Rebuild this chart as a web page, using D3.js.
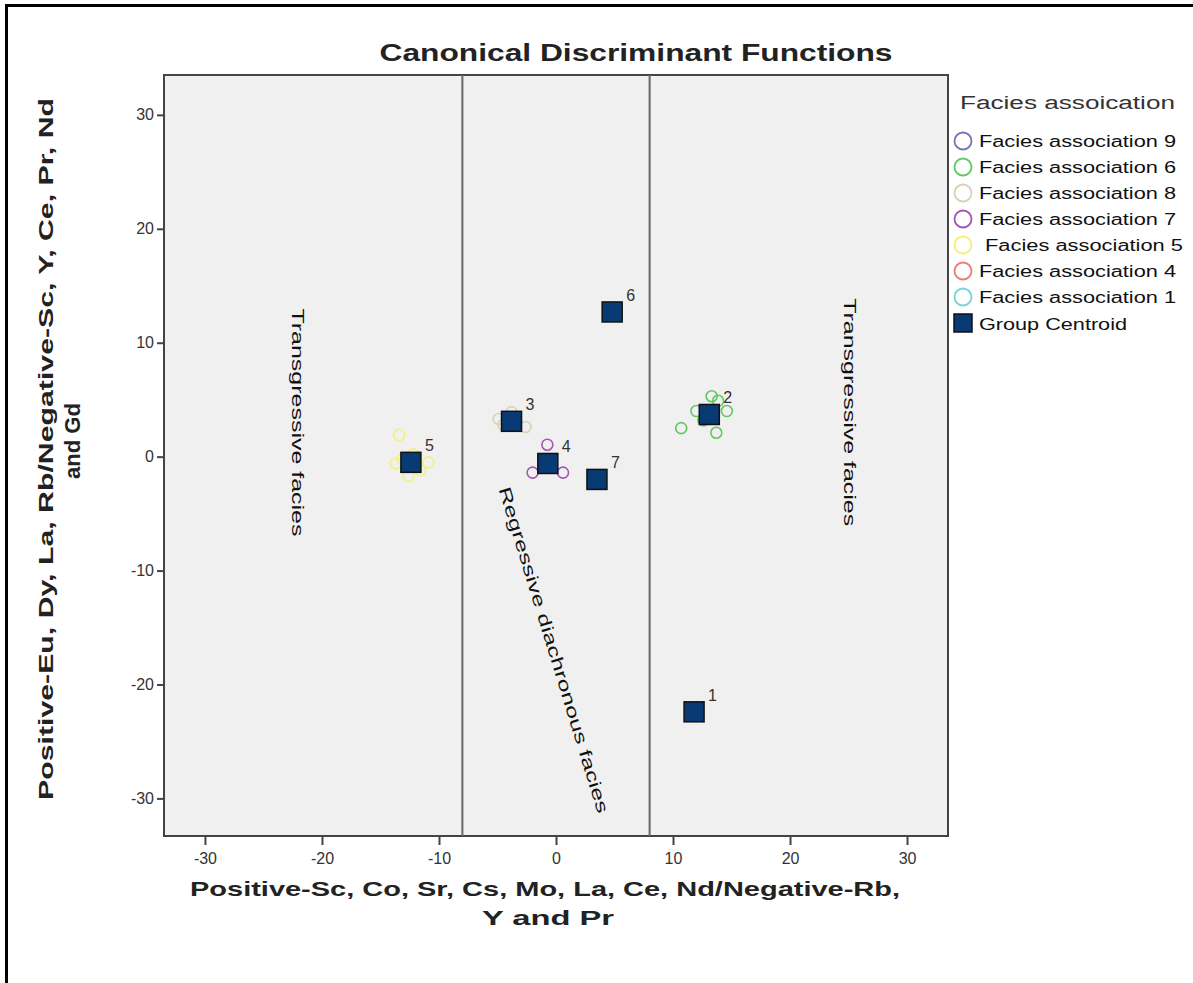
<!DOCTYPE html>
<html><head><meta charset="utf-8">
<script src="https://cdn.jsdelivr.net/npm/d3@7"></script>
<style>body{margin:0;background:#fff;}svg{display:block;font-family:Arial,"Liberation Sans",sans-serif;}</style>
</head><body>
<svg id="c" width="1193" height="983"></svg>
<script>
const xTicks = [-30,-20,-10,0,10,20,30];
const yTicks = [-30,-20,-10,0,10,20,30];
const boundaries = [-8, 8];

const legendNames = ["Facies association 9","Facies association 6","Facies association 8","Facies association 7"," Facies association 5","Facies association 4","Facies association 1"];
const legendColors = ["#7474b8","#62c862","#d9d2b4","#a456b4","#f2f27a","#f07878","#78d4d4"];

// individual cases
const fa6X = [10.7, 12.0, 13.3, 13.85, 14.6, 13.7, 12.6];
const fa6Y = [2.5, 4.0, 5.3, 4.9, 4.0, 2.1, 3.2];
const fa8X = [-4.9, -2.6, -3.8, -4.5];
const fa8Y = [3.3, 2.6, 3.9, 2.8];
const fa7X = [-0.74, -2.0, 0.6, -0.7];
const fa7Y = [1.05, -1.4, -1.4, -0.6];
const fa5X = [-13.4, -13.7, -10.9, -12.6, -12.2, -11.6, -13.1];
const fa5Y = [1.9, -0.6, -0.5, -1.7, 0.2, -1.2, -0.2];

const centroidLabels = ["1","2","3","4","5","6","7"];
const centroidX = [11.8, 13.1, -3.8, -0.7, -12.4, 4.8, 3.5];
const centroidY = [-22.4, 3.7, 3.1, -0.6, -0.5, 12.7, -2.0];

const svg = d3.select("#c");
const x = d3.scaleLinear().domain([-33.5, 33.5]).range([164, 948]);
const y = d3.scaleLinear().domain([-33.3, 33.5]).range([836, 75]);

function fit(sel, len){ return sel.attr("textLength", len).attr("lengthAdjust","spacingAndGlyphs"); }

// outer frame
svg.append("rect").attr("x",6.5).attr("y",5.5).attr("width",1200).attr("height",1000)
  .attr("fill","none").attr("stroke","#000").attr("stroke-width",3);

// plot background
svg.append("rect").attr("x",x(-33.5)).attr("y",y(33.5)).attr("width",x(33.5)-x(-33.5)).attr("height",y(-33.3)-y(33.5))
  .attr("fill","#f0f0f0").attr("stroke","#444").attr("stroke-width",2);

// boundaries
svg.selectAll(".bnd").data(boundaries).enter().append("line")
  .attr("x1",d=>x(d)).attr("x2",d=>x(d)).attr("y1",y(33.5)).attr("y2",y(-33.3))
  .attr("stroke","#666").attr("stroke-width",2);

// axes
const xAxis = svg.append("g").attr("transform",`translate(0,${y(-33.3)})`)
  .call(d3.axisBottom(x).tickValues(xTicks).tickSize(9).tickPadding(8).tickFormat(d=>String(d)));
const yAxis = svg.append("g").attr("transform",`translate(${x(-33.5)},0)`)
  .call(d3.axisLeft(y).tickValues(yTicks).tickSize(7).tickPadding(3).tickFormat(d=>String(d)));
[xAxis,yAxis].forEach(a=>{
  a.select(".domain").remove();
  a.selectAll(".tick line").attr("stroke","#444").attr("stroke-width",2);
  a.selectAll(".tick text").attr("fill","#333").style("font-size","16px").style("font-family","Arial, 'Liberation Sans', sans-serif");
});

// annotations
fit(svg.append("text").attr("transform",`translate(${x(-22.2)},${y(3)}) rotate(90)`)
  .attr("text-anchor","middle").attr("dominant-baseline","middle")
  .style("font-size","16px").attr("fill","#111").text("Transgressive facies"), 228);
fit(svg.append("text").attr("transform",`translate(${x(25)},${y(3.9)}) rotate(90)`)
  .attr("text-anchor","middle").attr("dominant-baseline","middle")
  .style("font-size","16px").attr("fill","#111").text("Transgressive facies"), 228);
fit(svg.append("text").attr("transform",`translate(${x(-0.3)},${y(-17.0)}) rotate(73)`)
  .attr("text-anchor","middle").attr("dominant-baseline","middle")
  .style("font-size","17px").attr("fill","#111").text("Regressive diachronous facies"), 340);

// cases
function drawCases(xs, ys, color){
  svg.append("g").selectAll("circle").data(xs.map((v,i)=>[v,ys[i]])).enter().append("circle")
    .attr("cx",d=>x(d[0])).attr("cy",d=>y(d[1])).attr("r",5.5)
    .attr("fill","none").attr("stroke",color).attr("stroke-width",1.6);
}
drawCases(fa6X, fa6Y, legendColors[1]);
drawCases(fa8X, fa8Y, legendColors[2]);
drawCases(fa7X, fa7Y, legendColors[3]);
drawCases(fa5X, fa5Y, legendColors[4]);

// centroids
const cg = svg.append("g");
const cdata = centroidX.map((v,i)=>({x:v,y:centroidY[i],l:centroidLabels[i]}));
cg.selectAll("rect").data(cdata).enter().append("rect")
  .attr("x",d=>x(d.x)-10).attr("y",d=>y(d.y)-10).attr("width",20).attr("height",20)
  .attr("fill","#083a74").attr("stroke","#111").attr("stroke-width",1.5);
cg.selectAll("text").data(cdata).enter().append("text")
  .attr("x",d=>x(d.x)+14).attr("y",d=>y(d.y)-11)
  .style("font-size","16px").attr("fill","#333").text(d=>d.l);

// title
fit(svg.append("text").attr("x",636).attr("y",61).attr("text-anchor","middle")
  .style("font-size","23px").style("font-weight","bold").attr("fill","#222").text("Canonical Discriminant Functions"), 513);

// axis titles
function boldText(tx, ty, rot, str, len, fs){
  return fit(svg.append("text").attr("transform",`translate(${tx},${ty}) rotate(${rot})`).attr("text-anchor","middle")
    .style("font-size",(fs||21)+"px").style("font-weight","bold").attr("fill","#222").text(str), len);
}
boldText(545, 896, 0, "Positive-Sc, Co, Sr, Cs, Mo, La, Ce, Nd/Negative-Rb,", 710);
boldText(548, 925, 0, "Y and Pr", 132);
boldText(53, 449, -90, "Positive-Eu, Dy, La, Rb/Negative-Sc, Y, Ce, Pr, Nd", 702);
boldText(80, 441, -90, "and Gd", 76, 22);

// legend
const lg = svg.append("g");
fit(lg.append("text").attr("x",960).attr("y",109).style("font-size","18px").attr("fill","#333").text("Facies assoication"), 215);
legendNames.forEach((n,i)=>{
  const cy = 141 + i*26;
  lg.append("circle").attr("cx",963).attr("cy",cy).attr("r",8.5).attr("fill","none").attr("stroke",legendColors[i]).attr("stroke-width",1.8);
  const lead = n.startsWith(" ");
  fit(lg.append("text").attr("x",lead?985:979).attr("y",cy+5.5).style("font-size","16px").attr("fill","#111").text(n.trim()), lead?198:197);
});
lg.append("rect").attr("x",954).attr("y",314).attr("width",18).attr("height",18).attr("fill","#083a74").attr("stroke","#111").attr("stroke-width",1.5);
fit(lg.append("text").attr("x",979).attr("y",329.5).style("font-size","16px").attr("fill","#111").text("Group Centroid"), 148);
</script>
</body></html>
